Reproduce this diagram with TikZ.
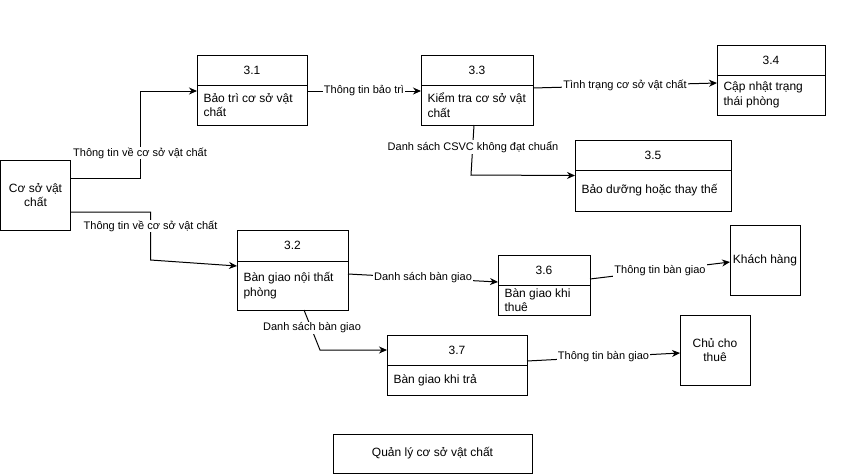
\documentclass[tikz,border=0pt]{standalone}
\usepackage{fontspec}
\setmainfont{Liberation Sans}
\usetikzlibrary{arrows.meta}
\begin{document}
\begin{tikzpicture}[x=1pt,y=-1pt,line width=1pt,
  box/.style={draw, rectangle, inner sep=0pt, outer sep=0pt},
  hdr/.style={font=\fontsize{12}{14.5}\selectfont, inner sep=0pt},
  body/.style={font=\fontsize{12}{14.5}\selectfont, align=left, anchor=west, inner sep=0pt},
  ent/.style={box, align=center, font=\fontsize{12}{14.5}\selectfont},
  lbl/.style={font=\fontsize{11}{13}\selectfont, fill=white, inner sep=1pt},
  arr/.style={-{Stealth[length=8pt,width=7pt]}}]
\useasboundingbox (0,0) rectangle (851,475);

% external entities
\node[ent, minimum width=70pt, minimum height=70pt] (cs) at (35.5,195) {Cơ sở vật\\chất};
\node[ent, minimum width=70pt, minimum height=70pt] (kh) at (765,260) {Khách hàng};
\node[ent, minimum width=70pt, minimum height=70pt] (cct) at (715,350) {Chủ cho\\thuê};

% process 3.1
\node[box, minimum width=110pt, minimum height=70pt] (p31) at (252,90) {};
\draw ([yshift=-30pt]p31.north west) -- ([yshift=-30pt]p31.north east);
\node[hdr] (p31h) at (252,70) {3.1};
\node[body] (p31b) at (203,105) {Bảo trì cơ sở vật\\chất};

% process 3.3
\node[box, minimum width=112pt, minimum height=70pt] (p33) at (477,90) {};
\draw ([yshift=-30pt]p33.north west) -- ([yshift=-30pt]p33.north east);
\node[hdr] (p33h) at (477,70) {3.3};
\node[body] (p33b) at (427,105) {Kiểm tra cơ sở vật\\chất};

% process 3.4
\node[box, minimum width=108pt, minimum height=70pt] (p34) at (771,80) {};
\draw ([yshift=-30pt]p34.north west) -- ([yshift=-30pt]p34.north east);
\node[hdr] (p34h) at (771,60) {3.4};
\node[body] (p34b) at (723,95) {Cập nhật trạng\\thái phòng};

% process 3.5
\node[box, minimum width=156pt, minimum height=71pt] (p35) at (653,175.5) {};
\draw ([yshift=-30pt]p35.north west) -- ([yshift=-30pt]p35.north east);
\node[hdr] (p35h) at (653,155) {3.5};
\node[body] (p35b) at (581,190.5) {Bảo dưỡng hoặc thay thế};

% process 3.2
\node[box, minimum width=111pt, minimum height=80pt] (p32) at (292.5,270) {};
\draw ([yshift=-31pt]p32.north west) -- ([yshift=-31pt]p32.north east);
\node[hdr] (p32h) at (292.5,245.5) {3.2};
\node[body] (p32b) at (243,285.5) {Bàn giao nội thất\\phòng};

% process 3.6
\node[box, minimum width=92pt, minimum height=60pt] (p36) at (544,285) {};
\draw ([yshift=-30pt]p36.north west) -- ([yshift=-30pt]p36.north east);
\node[hdr] (p36h) at (544,270) {3.6};
\node[body] (p36b) at (504,300) {Bàn giao khi\\thuê};

% process 3.7
\node[box, minimum width=140pt, minimum height=60pt] (p37) at (457,365) {};
\draw ([yshift=-30pt]p37.north west) -- ([yshift=-30pt]p37.north east);
\node[hdr] (p37h) at (457,350) {3.7};
\node[body] (p37b) at (393,380) {Bàn giao khi trả};

% title
\node[ent, minimum width=199pt, minimum height=39pt] (ql) at (432.5,453.5) {Quản lý cơ sở vật chất};

% connectors
\draw[arr] ([yshift=17pt]cs.east) -- ++(70,0) |- ([yshift=-1pt]p31.west);
\node[lbl] (l1) at (140,153) {Thông tin về cơ sở vật chất};

\draw[arr] ([yshift=-17pt]cs.east) -- ++(80,0) -- ++(0,48) -- ([yshift=4pt]p32.west);
\node[lbl] (l2) at (150.5,226) {Thông tin về cơ sở vật chất};

\draw[arr] ([yshift=-1pt]p31.east) -- node[lbl] (l3) {Thông tin bảo trì} ([yshift=-1pt]p33.west);

\draw[arr] ([yshift=2pt]p33.east) -- node[lbl] (l4) {Tình trạng cơ sở vật chất} ([yshift=-3pt]p34.west);

\draw[arr] ([xshift=-3pt]p33.south) -- ++(-3,50) -- (p35.west);
\node[lbl] (l5) at (473,147) {Danh sách CSVC không đạt chuẩn};

\draw[arr] ([yshift=-4pt]p32.east) -- node[lbl] (l6) {Danh sách bàn giao} ([yshift=3pt]p36.west);

\draw[arr] ([yshift=6pt]p36.east) -- node[lbl] (l7) {Thông tin bàn giao} ([yshift=-2pt]kh.west);

\draw[arr] ([xshift=11.5pt]p32.south) -- ++(16,40) -- ([yshift=15pt]p37.west);
\node[lbl] (l8) at (312,328) {Danh sách bàn giao};

\draw[arr] ([yshift=4pt]p37.east) -- node[lbl] (l9) {Thông tin bàn giao} ([yshift=-3pt]cct.west);
\end{tikzpicture}
\end{document}
